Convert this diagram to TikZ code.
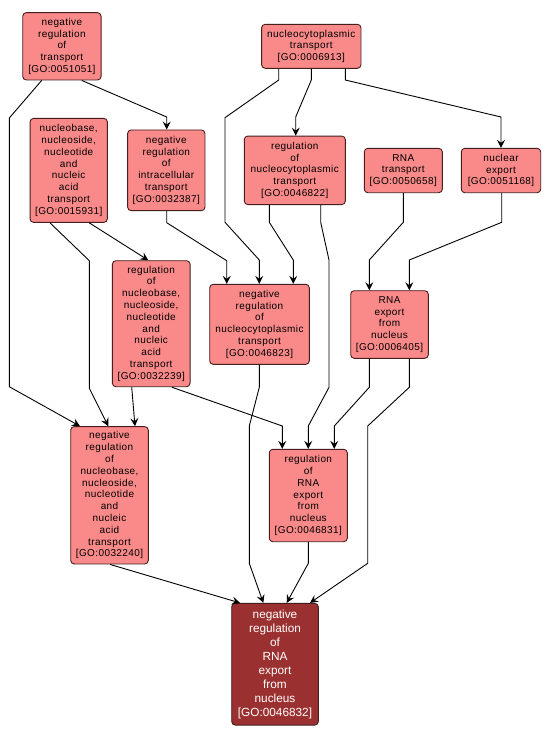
\documentclass[tikz,border=0pt]{standalone}
\usepackage{fontspec}
\setmainfont{Liberation Sans}
\newfontfamily\boxfont[LetterSpace=4]{Liberation Sans}
\usetikzlibrary{arrows.meta}
\definecolor{lightfill}{RGB}{250,137,137}
\definecolor{darkfill}{RGB}{155,48,48}
\definecolor{boxline}{RGB}{70,30,30}
\tikzset{
  gobox/.style={draw=boxline, line width=0.9pt, fill=lightfill, rounded corners=3.5pt,
    inner sep=0pt, align=center, font=\boxfont\fontsize{10}{11.8}\selectfont, text=black},
  goboxdark/.style={gobox, fill=darkfill, text=white, font=\fontsize{11.8}{14}\selectfont},
  edge/.style={draw=black, line width=0.9pt, -{Stealth[length=8pt,width=8pt,inset=3pt]}},
}
\begin{document}
\begin{tikzpicture}[x=1pt,y=-1pt]
\useasboundingbox[fill=white] (0,0) rectangle (550,740);

\node[gobox, minimum width=78.3pt, minimum height=67.3pt] (n51051) at (61.9,46.3)
  {negative\\regulation\\of\\transport\\{[}GO:0051051{]}};
\node[gobox, minimum width=99.3pt, minimum height=44pt] (n6913) at (311.3,46.3)
  {nucleocytoplasmic\\transport\\{[}GO:0006913{]}};
\node[gobox, minimum width=77.3pt, minimum height=104pt] (n15931) at (68.7,170.4)
  {nucleobase,\\nucleoside,\\nucleotide\\and\\nucleic\\acid\\transport\\{[}GO:0015931{]}};
\node[gobox, minimum width=77.3pt, minimum height=80.7pt] (n32387) at (166.3,170.3)
  {negative\\regulation\\of\\intracellular\\transport\\{[}GO:0032387{]}};
\node[gobox, minimum width=101pt, minimum height=68.5pt] (n46822) at (294.8,170.3)
  {regulation\\of\\nucleocytoplasmic\\transport\\{[}GO:0046822{]}};
\node[gobox, minimum width=78pt, minimum height=44.4pt] (n50658) at (403.3,170.5)
  {RNA\\transport\\{[}GO:0050658{]}};
\node[gobox, minimum width=79.4pt, minimum height=44.4pt] (n51168) at (501,170.5)
  {nuclear\\export\\{[}GO:0051168{]}};
\node[gobox, minimum width=77.7pt, minimum height=126pt] (n32239) at (151.2,323.7)
  {regulation\\of\\nucleobase,\\nucleoside,\\nucleotide\\and\\nucleic\\acid\\transport\\{[}GO:0032239{]}};
\node[gobox, minimum width=99.6pt, minimum height=80pt] (n46823) at (259.5,324.3)
  {negative\\regulation\\of\\nucleocytoplasmic\\transport\\{[}GO:0046823{]}};
\node[gobox, minimum width=77.6pt, minimum height=67.6pt] (n6405) at (389.5,324.5)
  {RNA\\export\\from\\nucleus\\{[}GO:0006405{]}};
\node[gobox, minimum width=77.6pt, minimum height=137.3pt] (n32240) at (109.5,495.3)
  {negative\\regulation\\of\\nucleobase,\\nucleoside,\\nucleotide\\and\\nucleic\\acid\\transport\\{[}GO:0032240{]}};
\node[gobox, minimum width=78pt, minimum height=92.4pt] (n46831) at (308.3,495.5)
  {regulation\\of\\RNA\\export\\from\\nucleus\\{[}GO:0046831{]}};
\node[goboxdark, minimum width=86.6pt, minimum height=121.7pt] (n46832) at (275,664.2)
  {negative\\regulation\\of\\RNA\\export\\from\\nucleus\\{[}GO:0046832{]}};

% edges
\draw[edge] (81.7,0 |- n51051.south) -- (166.7,117) -- (166.7,0 |- n32387.north);
\draw[edge] (41.7,0 |- n51051.south) -- (9.3,118) -- (9.3,386.7) -- (80,0 |- n32240.north);
\draw[edge] (278.7,0 |- n6913.south) -- (278.7,80) -- (225,117.7) -- (225,222.3) -- (259.3,260) -- (259.3,0 |- n46823.north);
\draw[edge] (311.3,0 |- n6913.south) -- (311.3,80) -- (295.7,117) -- (295.7,0 |- n46822.north);
\draw[edge] (345.3,0 |- n6913.south) -- (345.3,80) -- (501,117) -- (501,0 |- n51168.north);
\draw[edge] (50,0 |- n15931.south) -- (89.3,260.7) -- (89.3,388.3) -- (108.3,0 |- n32240.north);
\draw[edge] (89.3,0 |- n15931.south) -- (148.3,0 |- n32239.north);
\draw[edge] (166.7,0 |- n32387.south) -- (166.7,222.7) -- (226.7,260.7) -- (226.7,0 |- n46823.north);
\draw[edge] (269.3,0 |- n46822.south) -- (269.3,222.3) -- (293.3,260) -- (293.3,0 |- n46823.north);
\draw[edge] (320.7,0 |- n46822.south) -- (320.7,222.3) -- (329,260) -- (329,387.3) -- (308.3,426) -- (308.3,0 |- n46831.north);
\draw[edge] (403.3,0 |- n50658.south) -- (403.3,222.3) -- (369.3,260) -- (369.3,0 |- n6405.north);
\draw[edge] (501.7,0 |- n51168.south) -- (501.7,222.3) -- (409.3,260) -- (409.3,0 |- n6405.north);
\draw[edge] (131.7,0 |- n32239.south) -- (135,0 |- n32240.north);
\draw[edge] (171.7,0 |- n32239.south) -- (282.3,426) -- (282.3,0 |- n46831.north);
\draw[edge] (259.3,0 |- n46823.south) -- (259.3,387.3) -- (249.3,426) -- (249.3,563.3) -- (263.3,0 |- n46832.north);
\draw[edge] (369.3,0 |- n6405.south) -- (369.3,387.3) -- (334.3,426) -- (334.3,0 |- n46831.north);
\draw[edge] (409.3,0 |- n6405.south) -- (409.3,387.3) -- (367.7,426) -- (367.7,563.3) -- (310,0 |- n46832.north);
\draw[edge] (110,0 |- n32240.south) -- (240,0 |- n46832.north);
\draw[edge] (308.3,0 |- n46831.south) -- (308.3,563.3) -- (286.7,0 |- n46832.north);
\end{tikzpicture}
\end{document}
